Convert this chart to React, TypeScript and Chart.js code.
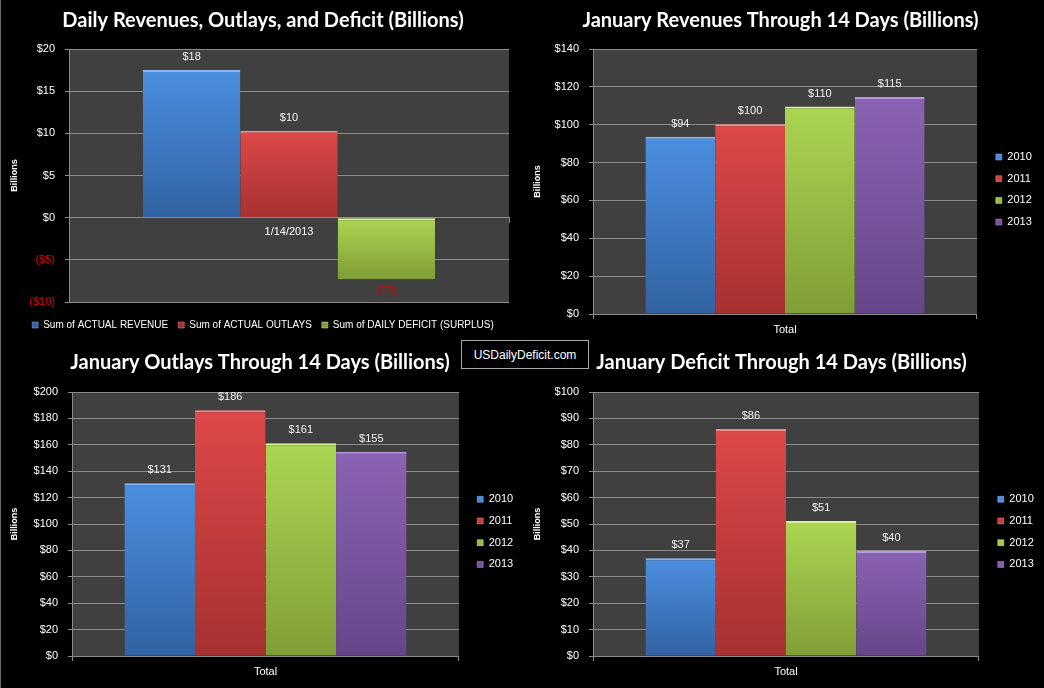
import React, { useEffect, useRef } from 'react';
import { Chart, registerables } from 'chart.js';

Chart.register(...registerables);
Chart.defaults.font.family = "'Liberation Sans', Arial, sans-serif";

// ---------- data ----------
const dailyCategories = ['1/14/2013'];
const dailySeries = ['Sum of ACTUAL REVENUE', 'Sum of ACTUAL OUTLAYS', 'Sum of DAILY DEFICIT (SURPLUS)'];
const dailyRevenue = [17.5];
const dailyOutlays = [10.3];
const dailyDeficit = [-7.3];

const yearSeries = ['2010', '2011', '2012', '2013'];
const totalCategories = ['Total'];
const revenueByYear = [93.6, 100.2, 109.6, 114.6];
const outlaysByYear = [130.8, 186.2, 161.2, 154.8];
const deficitByYear = [37.0, 86.0, 51.1, 39.8];

const dailyTicks = { min: -10, max: 20, step: 5 };
const revenueTicks = { min: 0, max: 140, step: 20 };
const outlaysTicks = { min: 0, max: 200, step: 20 };
const deficitTicks = { min: 0, max: 100, step: 10 };

// ---------- styles ----------
const PALETTE = [
  { top: '#4b8fe0', bottom: '#3262a2', solid: '#3f77c4', edge: '#86b8f2' },
  { top: '#de4848', bottom: '#a63131', solid: '#c43c3c', edge: '#f28a8a' },
  { top: '#acd552', bottom: '#7f9e37', solid: '#98bb46', edge: '#d6f291' },
  { top: '#8a63b4', bottom: '#664689', solid: '#7855a0', edge: '#b896e0' },
];
const GRID = '#8c8c8c';
const PLOT_BG = '#404040';
const RED = '#e00000';
const TEXT = '#ffffff';

const fmtMoney = (v: number) => (v < 0 ? `($${Math.round(-v)})` : `$${Math.round(v)}`);

const plotBgPlugin = {
  id: 'plotBg',
  beforeDraw(chart: any) {
    const a = chart.chartArea;
    if (!a) return;
    const c = chart.ctx;
    c.save();
    c.fillStyle = PLOT_BG;
    c.fillRect(a.left, a.top, a.right - a.left, a.bottom - a.top);
    c.restore();
  },
};

const valueLabelPlugin = {
  id: 'valueLabels',
  afterDatasetsDraw(chart: any) {
    const c = chart.ctx;
    c.save();
    c.font = "11px 'Liberation Sans', Arial, sans-serif";
    c.textAlign = 'center';
    c.textBaseline = 'middle';
    chart.data.datasets.forEach((ds: any, di: number) => {
      const meta = chart.getDatasetMeta(di);
      meta.data.forEach((bar: any, i: number) => {
        const v = ds.data[i] as number;
        const neg = v < 0;
        c.fillStyle = neg ? RED : '#f2f2f2';
        c.fillText(fmtMoney(v), bar.x, neg ? bar.y + 12 : bar.y - 13);
      });
    });
    c.restore();
  },
};

function barFill(colorIndex: number) {
  const p = PALETTE[colorIndex];
  return (ctx: any) => {
    if (ctx.type !== 'data') return p.solid;
    const chart = ctx.chart;
    const ys = chart.scales && chart.scales.y;
    if (!ys || !chart.chartArea) return p.solid;
    const v1 = ys.getPixelForValue(ctx.raw);
    const v0 = ys.getPixelForValue(0);
    if (!isFinite(v1) || !isFinite(v0) || v1 === v0) return p.solid;
    const g = chart.ctx.createLinearGradient(0, Math.min(v0, v1), 0, Math.max(v0, v1));
    g.addColorStop(0, p.top);
    g.addColorStop(1, p.bottom);
    return g;
  };
}

type Panel = {
  x: number; y: number; w: number; h: number;
  title: string;
  categories: string[];
  series: string[];
  values: number[][];
  ticks: { min: number; max: number; step: number };
  padL: number; padR: number;
  yWidth: number; yTitlePad: number; gap: number;
  titlePad: { top: number; bottom: number };
  legendPos: 'bottom' | 'right';
  legendFont: number; legendPad: number; legendTitleH: number;
  zeroAxis: boolean; xHeight: number; xPad: number;
  catPct: number;
};

function buildConfig(p: Panel): any {
  const datasets = p.series.map((name, i) => ({
    label: name,
    data: p.values[i],
    xAxisID: 'x',
    yAxisID: 'y',
    backgroundColor: barFill(i),
    borderColor: PALETTE[i].edge,
    borderWidth: { top: 2, left: 0, right: 0, bottom: 0 },
    borderSkipped: false,
    barPercentage: 1,
    categoryPercentage: p.catPct,
  }));
  return {
    type: 'bar',
    data: { labels: p.categories, datasets },
    plugins: [plotBgPlugin, valueLabelPlugin],
    options: {
      responsive: false,
      animation: false,
      events: [],
      layout: { padding: { left: p.padL, right: p.padR, top: 0, bottom: 0 } },
      plugins: {
        tooltip: { enabled: false },
        title: {
          display: true,
          text: p.title,
          color: TEXT,
          font: { family: 'Lato', weight: 'bold', size: 20, lineHeight: 1.2 },
          padding: p.titlePad,
        },
        legend: {
          display: true,
          position: p.legendPos,
          align: 'center',
          labels: {
            color: TEXT,
            font: { size: p.legendFont },
            boxWidth: 6,
            boxHeight: 6,
            padding: p.legendPad,
          },
          title: {
            display: true,
            text: '',
            font: { size: 4, lineHeight: 1 },
            padding: { top: p.legendTitleH - 4, bottom: 0 },
          },
        },
      },
      scales: {
        x: {
          type: 'category',
          position: p.zeroAxis ? { y: 0 } : 'bottom',
          offset: true,
          grid: { display: true, drawOnChartArea: false, drawTicks: true, tickLength: 5, color: GRID, offset: true },
          border: { display: true, color: GRID },
          ticks: { color: TEXT, padding: p.xPad, font: { size: 11 } },
          afterFit: p.zeroAxis ? undefined : (s: any) => { s.height = p.xHeight; },
        },
        y: {
          type: 'linear',
          position: 'left',
          min: p.ticks.min,
          max: p.ticks.max,
          ticks: {
            stepSize: p.ticks.step,
            padding: 10,
            font: { size: 11 },
            color: (c: any) => (c.tick && c.tick.value < 0 ? RED : TEXT),
            callback: (v: any) => fmtMoney(Number(v)),
          },
          grid: { color: GRID, tickLength: 4, drawTicks: true },
          border: { display: true, color: GRID },
          title: {
            display: true,
            text: 'Billions',
            color: TEXT,
            font: { size: 9, weight: 'bold', lineHeight: 1.2 },
            padding: { top: p.yTitlePad, bottom: 0 },
          },
          afterFit: (s: any) => { s.width = p.yWidth; },
        },
        gap: {
          type: 'linear',
          position: 'right',
          display: true,
          grid: { display: false },
          border: { display: false },
          ticks: { display: false },
          title: { display: false },
          afterFit: (s: any) => { s.width = p.gap; },
        },
      },
    },
  };
}

const PANELS: Panel[] = [
  {
    x: 0, y: 0, w: 520, h: 340,
    title: 'Daily Revenues, Outlays, and Deficit (Billions)',
    categories: dailyCategories,
    series: dailySeries,
    values: [dailyRevenue, dailyOutlays, dailyDeficit],
    ticks: dailyTicks,
    padL: 6, padR: 0, yWidth: 63, yTitlePad: 3.6, gap: 11,
    titlePad: { top: 9, bottom: 16 },
    legendPos: 'bottom', legendFont: 10, legendPad: 10, legendTitleH: 8,
    zeroAxis: true, xHeight: 0, xPad: 3,
    catPct: 0.664,
  },
  {
    x: 520, y: 0, w: 524, h: 340,
    title: 'January Revenues Through 14 Days (Billions)',
    categories: totalCategories,
    series: yearSeries,
    values: revenueByYear.map((v) => [v]),
    ticks: revenueTicks,
    padL: -0.77, padR: 2.23, yWidth: 73.77, yTitlePad: 12.67, gap: 8.1,
    titlePad: { top: 9, bottom: 16 },
    legendPos: 'right', legendFont: 11, legendPad: 10.7, legendTitleH: 39.1,
    zeroAxis: false, xHeight: 26, xPad: 4,
    catPct: 0.727,
  },
  {
    x: 0, y: 340, w: 520, h: 348,
    title: 'January Outlays Through 14 Days (Billions)',
    categories: totalCategories,
    series: yearSeries,
    values: outlaysByYear.map((v) => [v]),
    ticks: outlaysTicks,
    padL: -3.17, padR: -3.17, yWidth: 75.17, yTitlePad: 12.77, gap: 7.5,
    titlePad: { top: 11, bottom: 17 },
    legendPos: 'right', legendFont: 11, legendPad: 10.7, legendTitleH: 35.7,
    zeroAxis: false, xHeight: 32, xPad: 4,
    catPct: 0.729,
  },
  {
    x: 520, y: 340, w: 524, h: 348,
    title: 'January Deficit Through 14 Days (Billions)',
    categories: totalCategories,
    series: yearSeries,
    values: deficitByYear.map((v) => [v]),
    ticks: deficitTicks,
    padL: -0.77, padR: 0.23, yWidth: 73.77, yTitlePad: 12.67, gap: 8.1,
    titlePad: { top: 11, bottom: 17 },
    legendPos: 'right', legendFont: 11, legendPad: 10.7, legendTitleH: 35.7,
    zeroAxis: false, xHeight: 32, xPad: 4,
    catPct: 0.728,
  },
];

function ChartPanel({ panel }: { panel: Panel }) {
  const ref = useRef<HTMLCanvasElement | null>(null);
  useEffect(() => {
    if (!ref.current) return;
    const chart = new Chart(ref.current, buildConfig(panel));
    return () => chart.destroy();
  }, [panel]);
  return (
    <canvas
      ref={ref}
      width={panel.w}
      height={panel.h}
      style={{ position: 'absolute', left: panel.x, top: panel.y, width: panel.w, height: panel.h }}
    />
  );
}

export default function App() {
  return (
    <div
      style={{
        position: 'absolute',
        left: 0,
        top: 0,
        width: 1044,
        height: 688,
        background: '#000',
        overflow: 'hidden',
      }}
    >
      {PANELS.map((p, i) => (
        <ChartPanel key={i} panel={p} />
      ))}
      <div
        style={{
          position: 'absolute',
          left: 0,
          top: 0,
          width: 1,
          height: 688,
          background: '#6a6a6a',
        }}
      />
      <div
        style={{
          position: 'absolute',
          left: 461,
          top: 340,
          width: 128,
          height: 29,
          boxSizing: 'border-box',
          border: '1px solid #a8a8a8',
          background: '#000',
          color: '#ffffff',
          font: "12px 'Liberation Sans', Arial, sans-serif",
          display: 'flex',
          alignItems: 'center',
          justifyContent: 'center',
        }}
      >
        USDailyDeficit.com
      </div>
    </div>
  );
}
